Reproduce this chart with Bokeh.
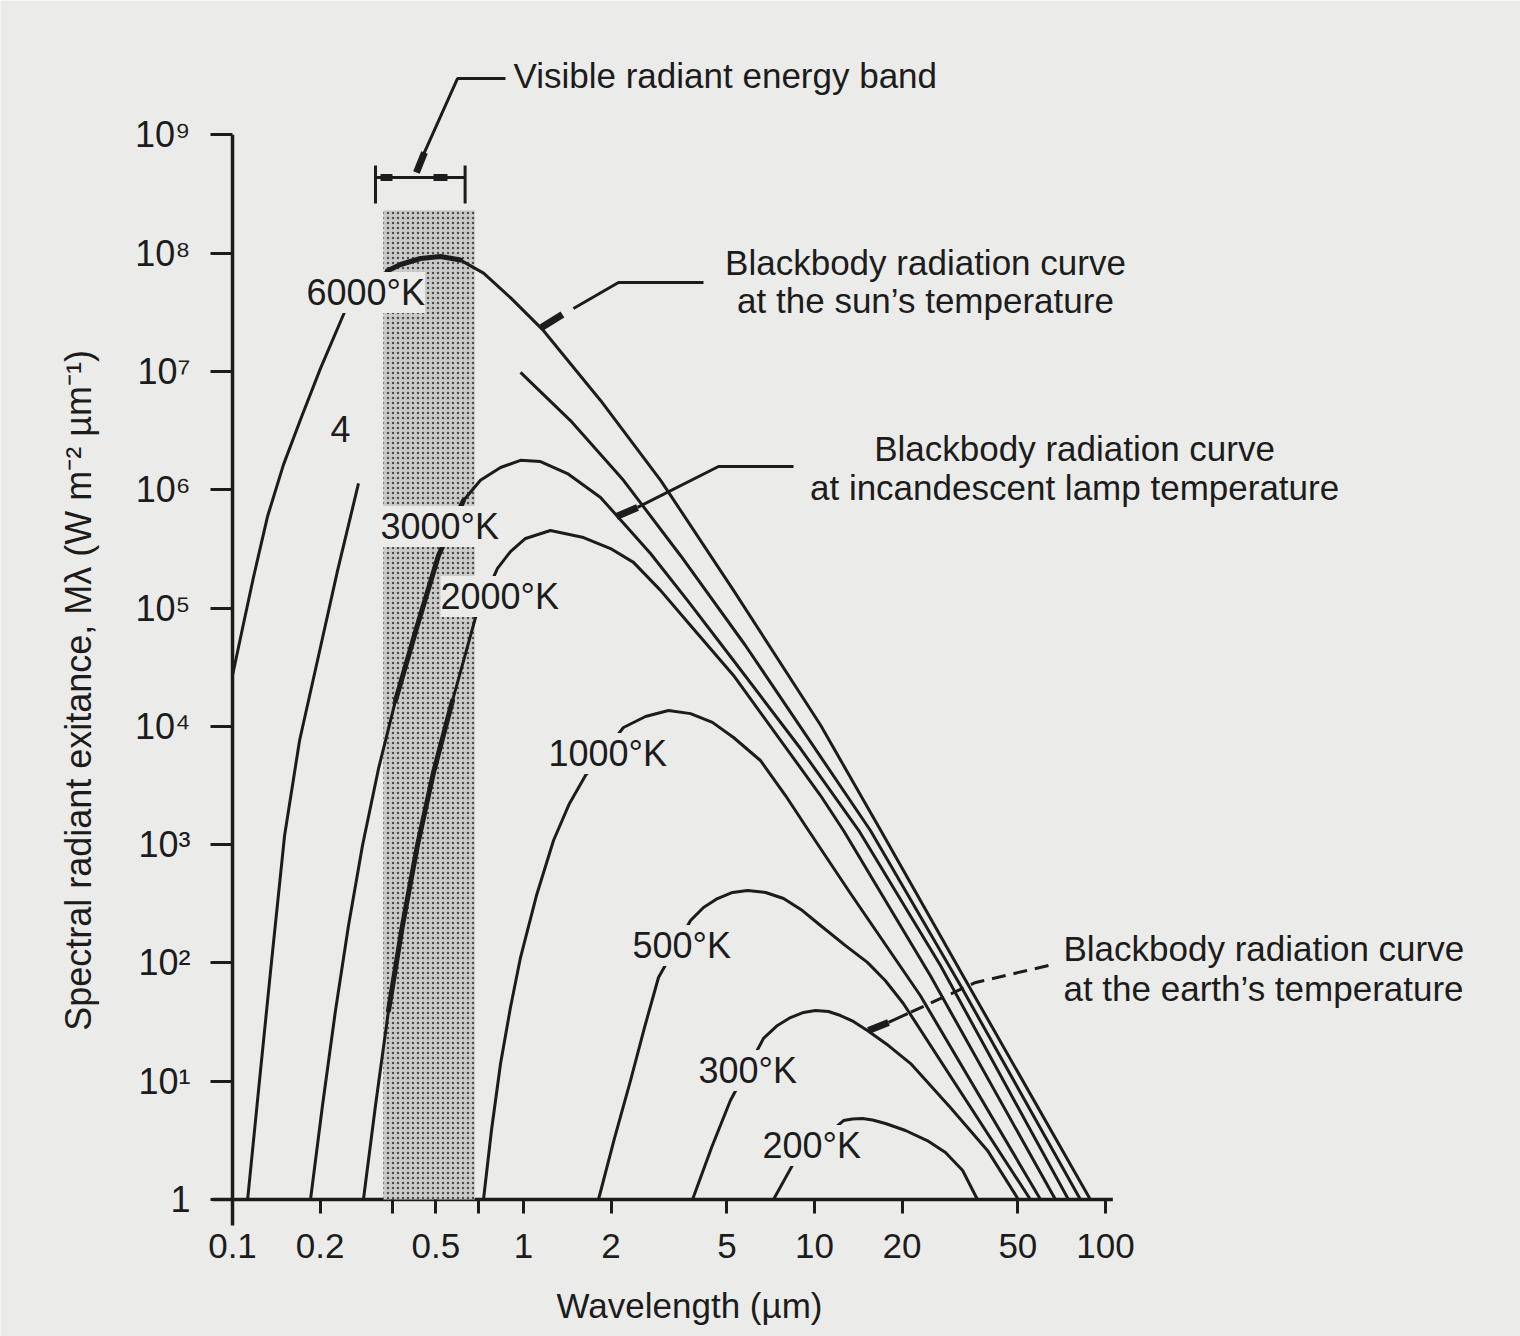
import math
import numpy as np
from bokeh.plotting import figure
from bokeh.models import Range1d, FixedTicker, CustomJSTickFormatter, Label
from bokeh.embed import file_html
from bokeh.resources import INLINE

# Blackbody curves: wavelength (µm) and spectral radiant exitance (W m^-2 µm^-1)
wl_6000 = [0.100, 0.1082, 0.118, 0.1319, 0.1497, 0.1713, 0.2006, 0.244, 0.341, 0.378, 0.4426, 0.5186,
           0.6075, 0.729, 0.902, 1.17, 1.84, 2.96, 5.27, 10.5, 16.9, 32.5, 88.7]
m_6000 = [2.69e4, 6.71e4, 1.81e5, 5.93e5, 1.63e6, 3.92e6, 1.06e7, 3.27e7, 7.1e7, 8.01e7, 9.0e7, 9.36e7,
          8.73e7, 6.78e7, 4.2e7, 2.22e7, 5.68e6, 1.2e6, 1.41e5, 1.02e4, 1315, 76.7, 1.0]

wl_4000_rise = [0.1127, 0.1238, 0.1361, 0.151, 0.17, 0.1959, 0.2296, 0.271]
m_4000_rise = [1.0, 10.1, 101, 1194, 7590, 3.6e4, 2.07e5, 1.13e6]
wl_4000_fall = [0.9765, 1.45, 2.206, 3.463, 5.79, 15.57, 31.75, 82.0]
m_4000_fall = [9.8e6, 3.84e6, 1.2e6, 2.78e5, 4.82e4, 1315, 64.4, 1.0]

wl_3000 = [0.1854, 0.2038, 0.2259, 0.2504, 0.2797, 0.3176, 0.3632, 0.4287, 0.5104, 0.622, 0.7113,
           0.834, 0.9765, 1.144, 1.416, 1.84, 2.732, 3.66, 5.27, 8.95, 14.2, 27.1, 74.6]
m_3000 = [1.0, 6.23, 39.6, 207, 982, 4400, 1.65e4, 6.71e4, 2.78e5, 8.1e5, 1.2e6,
          1.54e6, 1.77e6, 1.73e6, 1.37e6, 8.6e5, 2.89e5, 1.16e5, 3.6e4, 6490, 1315, 95.1, 1.0]

wl_2000 = [0.2818, 0.31, 0.3437, 0.3838, 0.432, 0.4906, 0.5702, 0.684, 0.814, 0.902, 1.016, 1.238,
           1.608, 1.991, 2.388, 2.957, 3.75, 5.27, 10.49, 12.58, 25.0, 67.3]
m_2000 = [1.0, 6.23, 39.6, 207, 982, 4070, 1.65e4, 8.3e4, 2.16e5, 3.0e5, 3.87e5, 4.52e5,
          3.94e5, 3.18e5, 2.43e5, 1.41e5, 7.11e4, 2.69e4, 2600, 1315, 78.3, 1.0]

wl_1000 = [0.7286, 0.776, 0.834, 0.902, 0.9765, 1.108, 1.268, 1.439, 1.633, 2.206, 2.626, 3.15,
           3.75, 4.46, 5.27, 6.52, 7.95, 9.54, 13.3, 23.1, 59.8]
m_1000 = [1.0, 3.83, 14.1, 42.0, 111, 371, 1083, 2230, 3840, 9770, 1.21e4, 1.36e4,
          1.28e4, 1.08e4, 8040, 5140, 2600, 1315, 386, 53, 1.0]

wl_500 = [1.81, 2.054, 2.332, 2.605, 2.91, 3.75, 4.155, 4.64, 5.23, 5.89, 6.79, 7.83, 9.09, 10.49,
          12.78, 15.2, 17.5, 20.2, 55.2]
m_500 = [1.0, 3.28, 10.1, 28.4, 75.3, 228, 294, 350, 394, 409, 394, 350, 277, 207,
         140, 101, 71, 45.4, 1.0]

wl_300 = [3.81, 4.43, 5.14, 6.68, 7.46, 8.27, 9.17, 10.08, 11.17, 12.29, 13.6, 15.2, 17.96, 21.4,
          29.3, 39.3, 50.2]
m_300 = [1.0, 2.75, 6.87, 23, 29.6, 34.5, 38.1, 39.6, 38.8, 35.9, 32, 26.8, 20, 14.1,
         6.0, 2.6, 1.0]

wl_200 = [7.23, 8.47, 12.58, 13.51, 14.62, 15.83, 17.54, 20.54, 24.4, 28.2, 32.3, 36.3]
m_200 = [1.0, 2.02, 4.65, 4.79, 4.84, 4.70, 4.39, 3.83, 3.15, 2.50, 1.76, 1.0]

# Visible band (µm) and the height of its shading
visible_band = [0.33, 0.68]
visible_top = 2.3e8

# Temperature labels: text, wavelength at left edge, exitance at middle
temp_text = ["6000°K", "4", "3000°K", "2000°K", "1000°K", "500°K", "300°K", "200°K"]
temp_wl = [0.1796, 0.2172, 0.3226, 0.5186, 1.219, 2.37, 3.995, 6.63]
temp_m = [4.65e7, 3.29e6, 4.89e5, 1.25e5, 5890, 140, 12.3, 2.86]

# Axis ticks
x_tick_values = [0.1, 0.2, 0.5, 1, 2, 5, 10, 20, 50, 100]
x_tick_labels = ["0.1", "0.2", "0.5", "1", "2", "5", "10", "20", "50", "100"]
x_minor_ticks = [0.355, 0.70]
y_tick_values = [1, 1e1, 1e2, 1e3, 1e4, 1e5, 1e6, 1e7, 1e8, 1e9]
y_tick_labels = ["1", "10¹", "10²", "10³", "10⁴", "10⁵", "10⁶", "10⁷", "10⁸", "10⁹"]

PAPER = "#ebebe9"
INK = "#1c1c1c"
FONT = "Liberation Sans"

# The plotting frame fills the page; axes sit at λ = 0.1 µm and M = 1
p = figure(width=1520, height=1336, x_axis_type="log", y_axis_type="log",
           x_range=Range1d(0.015947, 2668.5), y_range=Range1d(0.06949, 1.3655e10),
           output_backend="svg", toolbar_location=None, min_border=0)
p.background_fill_color = PAPER
p.border_fill_color = PAPER
p.outline_line_color = None
p.grid.visible = False

fmt_code = """
let best = 0, bd = Infinity;
for (let i = 0; i < vals.length; i++) {
  const d = Math.abs(Math.log(vals[i]) - Math.log(tick));
  if (d < bd) { bd = d; best = i; }
}
return labs[best];
"""
p.xaxis.ticker = FixedTicker(ticks=x_tick_values, minor_ticks=x_minor_ticks)
p.xaxis.formatter = CustomJSTickFormatter(args=dict(vals=x_tick_values, labs=x_tick_labels), code=fmt_code)
p.yaxis.ticker = FixedTicker(ticks=y_tick_values, minor_ticks=[])
p.yaxis.formatter = CustomJSTickFormatter(args=dict(vals=y_tick_values, labs=y_tick_labels), code=fmt_code)
p.xaxis.fixed_location = 1.0
p.yaxis.fixed_location = 0.1

for ax in (p.xaxis[0], p.yaxis[0]):
    ax.axis_line_color = None
    ax.major_tick_line_width = 3
    ax.major_tick_line_color = INK
    ax.minor_tick_line_width = 3
    ax.minor_tick_line_color = INK
    ax.major_tick_in = 0
    ax.minor_tick_in = 0
    ax.major_label_text_font = FONT
    ax.major_label_text_color = INK

p.xaxis.major_tick_out = 14
p.xaxis.minor_tick_out = 14
p.xaxis.major_label_standoff = 20
p.xaxis.major_label_text_font_size = "35px"
p.yaxis.major_tick_out = 22
p.yaxis.minor_tick_out = 0
p.yaxis.major_label_standoff = 20
p.yaxis.major_label_text_font_size = "36px"

# Axis lines (crossing slightly at the origin)
p.line([0.0853, 106], [1.0, 1.0], line_width=3.5, line_color=INK)
p.line([0.1, 0.1], [0.603, 1e9], line_width=3.5, line_color=INK)

# Visible band shading
p.quad(left=visible_band[0], right=visible_band[1], bottom=1.0, top=visible_top,
       fill_color="#cbcbc9", line_color=None,
       hatch_pattern="dot", hatch_color="#4e4e4e", hatch_scale=5, hatch_weight=1.5)

# Curves
curves = [(wl_6000, m_6000), (wl_4000_rise, m_4000_rise), (wl_4000_fall, m_4000_fall),
          (wl_3000, m_3000), (wl_2000, m_2000), (wl_1000, m_1000), (wl_500, m_500),
          (wl_300, m_300), (wl_200, m_200)]
for wl, m in curves:
    p.line(wl, m, line_width=3, line_color=INK, line_join="round")

# Inside the shaded band the curves are printed heavier
for wl, m in curves:
    inside = [(x, y) for x, y in zip(wl, m) if visible_band[0] <= x <= visible_band[1]]
    if len(inside) > 1:
        xs, ys = zip(*inside)
        p.line(list(xs), list(ys), line_width=5, line_color=INK, line_join="round", line_cap="round")

# Temperature labels (their paper-coloured boxes break the curves beneath)
for t, x, y in zip(temp_text, temp_wl, temp_m):
    p.add_layout(Label(x=x, y=y, text=t, text_font=FONT, text_font_size="36px", text_color=INK,
                       text_align="left", text_baseline="middle",
                       background_fill_color=PAPER, background_fill_alpha=1.0))

# Bracket over the visible band
p.segment(x0=[0.31, 0.31, 0.63], y0=[4.36e8, 2.63e8, 2.63e8], x1=[0.63, 0.31, 0.63], y1=[4.36e8, 5.5e8, 5.5e8],
          line_width=3, line_color=INK)
p.segment(x0=[0.3226, 0.4906], y0=[4.36e8, 4.36e8], x1=[0.3546, 0.548], y1=[4.36e8, 4.36e8],
          line_width=7, line_color=INK)

# Pointer to the visible band
p.line([0.867, 0.593, 0.4357], [2.99e9, 2.99e9, 5.5e8], line_width=3, line_color=INK)
p.line([0.4568, 0.4287], [7.08e8, 4.8e8], line_width=7, line_color=INK)

# Pointer to the sun's curve
p.line([4.155, 2.121, 1.485], [5.64e7, 5.64e7, 3.4e7], line_width=3, line_color=INK)
p.line([1.361, 1.153], [3.03e7, 2.35e7], line_width=7, line_color=INK)

# Pointer to the incandescent lamp curve
p.line([8.47, 4.68, 2.465], [1.57e6, 1.57e6, 7.08e5], line_width=3, line_color=INK)
p.line([2.465, 2.087], [7.08e5, 5.93e5], line_width=7, line_color=INK)

# Pointer to the earth's curve
p.line([63.7, 35.8, 20.9], [95.1, 68.3, 37.3], line_width=3, line_color=INK, line_dash="14 8")
p.line([20.9, 17.96], [37.3, 31.4], line_width=3, line_color=INK)
p.line([17.96, 15.33], [31.4, 26.8], line_width=7, line_color=INK)


def note(text, x, y, align, size="35px", angle=0.0):
    p.add_layout(Label(x=x, y=y, text=text, text_font=FONT, text_font_size=size, text_color=INK,
                       text_align=align, text_baseline="middle", angle=angle))


note("Visible radiant energy band", 0.924, 3.17e9, "left")
note("Blackbody radiation curve", 24.07, 8.33e7, "center")
note("at the sun’s temperature", 24.07, 3.97e7, "center")
note("Blackbody radiation curve", 78.3, 2.23e6, "center")
note("at incandescent lamp temperature", 78.3, 1.04e6, "center")
note("Blackbody radiation curve", 71.7, 132, "left")
note("at the earth’s temperature", 71.7, 60.8, "left")

# Axis titles
note("Wavelength (µm)", 3.72, 0.127, "center")
note("Spectral radiant exitance, Mλ (W m⁻² µm⁻¹)", 0.02957, 2.01e4, "center", size="36px",
     angle=math.pi / 2)

open("out.html", "w").write(file_html(p, INLINE))
